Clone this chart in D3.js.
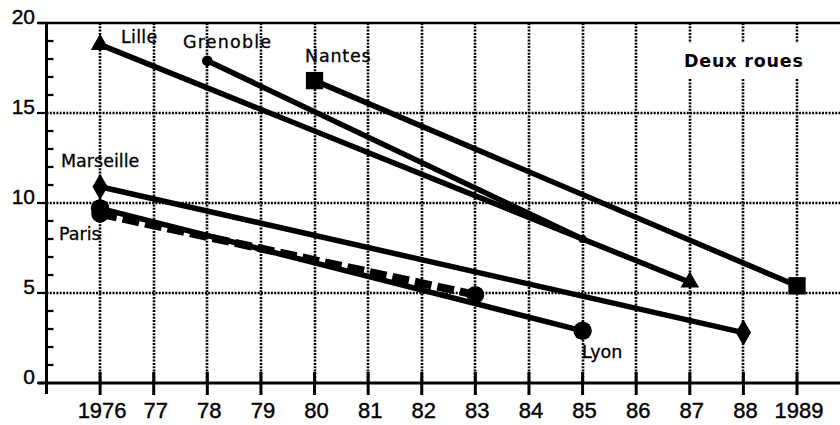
<!DOCTYPE html>
<html><head><meta charset="utf-8">
<script src="https://cdn.jsdelivr.net/npm/d3@7"></script>
<style>body{margin:0;background:#fff}svg{display:block}</style>
</head><body>
<svg id="c" width="840" height="425"></svg>
<script>
// ---- data ----
const years = [1976,1977,1978,1979,1980,1981,1982,1983,1984,1985,1986,1987,1988,1989];
const yearLabels = ["1976","77","78","79","80","81","82","83","84","85","86","87","88","1989"];
const yTicks = [0,5,10,15,20];
const title = "Deux roues";
const lilleYears = [1976,1987],  lilleValues = [18.8,5.6];
const grenobleYears = [1978,1985], grenobleValues = [17.9,8.0];
const nantesYears = [1980,1989], nantesValues = [16.8,5.4];
const marseilleYears = [1976,1988], marseilleValues = [10.9,2.8];
const lyonYears = [1976,1985], lyonValues = [9.7,2.9];
const parisYears = [1976,1983], parisValues = [9.4,4.9];

const svg = d3.select("#c");
const x = d3.scaleLinear().domain([1975,1989]).range([46.5,797]);
const y = d3.scaleLinear().domain([0,20]).range([383,23]);
const xRight = 840;

// gridlines (dotted)
const grid = svg.append("g").attr("stroke","#000").attr("stroke-width",2.6).attr("stroke-dasharray","2,1.3");
[5,10,15].forEach(v=>grid.append("line").attr("x1",x(1975)).attr("x2",xRight).attr("y1",Math.round(y(v))).attr("y2",Math.round(y(v))));
years.forEach(v=>grid.append("line").attr("x1",Math.round(x(v))).attr("x2",Math.round(x(v))).attr("y1",y(20)).attr("y2",y(0)));

// title with white box
svg.append("rect").attr("x",678).attr("y",43).attr("width",140).attr("height",36).attr("fill","#fff");
svg.append("text").attr("x",684).attr("y",67).attr("font-family","DejaVu Sans").attr("font-weight","bold")
  .attr("font-size",17.5).attr("letter-spacing",0.8).text(title);

// axes
svg.append("line").attr("x1",38).attr("x2",xRight).attr("y1",y(20)).attr("y2",y(20)).attr("stroke","#000").attr("stroke-width",2.5);
svg.append("line").attr("x1",38).attr("x2",xRight).attr("y1",y(0)).attr("y2",y(0)).attr("stroke","#000").attr("stroke-width",3);
svg.append("line").attr("x1",x(1975)).attr("x2",x(1975)).attr("y1",y(20)).attr("y2",394).attr("stroke","#000").attr("stroke-width",3);
// y ticks
d3.range(1,20).filter(v=>v%5).forEach(v=>svg.append("line").attr("x1",x(1975)).attr("x2",x(1975)+7).attr("y1",y(v)).attr("y2",y(v)).attr("stroke","#000").attr("stroke-width",2.2));
yTicks.forEach(v=>svg.append("line").attr("x1",37).attr("x2",x(1975)).attr("y1",y(v)).attr("y2",y(v)).attr("stroke","#000").attr("stroke-width",2.2));
svg.selectAll(".yl").data(yTicks).enter().append("text").attr("x",35).attr("y",v=>y(v)+1)
  .attr("text-anchor","end").attr("font-family","Liberation Sans").attr("font-size",21)
  .attr("stroke","#000").attr("stroke-width",0.4).text(v=>v);
// x ticks
years.forEach(v=>svg.append("line").attr("x1",x(v)).attr("x2",x(v)).attr("y1",372).attr("y2",395).attr("stroke","#000").attr("stroke-width",3));
svg.selectAll(".xl").data(years).enter().append("text").attr("x",(d,i)=>x(d)+2).attr("y",418)
  .attr("text-anchor","middle").attr("font-family","Liberation Sans").attr("font-size",22)
  .attr("stroke","#000").attr("stroke-width",0.4).text((d,i)=>yearLabels[i]);

// series
const line = d3.line().x(d=>x(d[0])).y(d=>y(d[1]));
function zip(a,b){return a.map((v,i)=>[v,b[i]]);}
const series = [
  {n:"Lille", d:zip(lilleYears,lilleValues), m:d3.symbolTriangle, s:150},
  {n:"Grenoble", d:zip(grenobleYears,grenobleValues), m:d3.symbolCircle, s:[90,50]},
  {n:"Nantes", d:zip(nantesYears,nantesValues), m:d3.symbolSquare, s:300},
  {n:"Marseille", d:zip(marseilleYears,marseilleValues), m:d3.symbolDiamond, s:200},
  {n:"Lyon", d:zip(lyonYears,lyonValues), m:d3.symbolCircle, s:270},
];
series.forEach(se=>{
  svg.append("path").attr("d",line(se.d)).attr("fill","none").attr("stroke","#000").attr("stroke-width",5.5);
});
// Paris dashed
svg.append("path").attr("d",line(zip(parisYears,parisValues))).attr("fill","none").attr("stroke","#000")
  .attr("stroke-width",8).attr("stroke-dasharray","17,6");
series.forEach(se=>{
  se.d.forEach((p,i)=>{
    const sz = Array.isArray(se.s)?se.s[i]:se.s;
    svg.append("path").attr("d",d3.symbol().type(se.m).size(sz)()).attr("transform",`translate(${x(p[0])},${y(p[1])})`).attr("fill","#000");
  });
});
zip(parisYears,parisValues).forEach(p=>svg.append("path").attr("d",d3.symbol().type(d3.symbolCircle).size(250)()).attr("transform",`translate(${x(p[0])},${y(p[1])})`));

// city labels
const labels = [["Lille",121,43,0.3],["Grenoble",183,48,1.2],["Nantes",305,62,0.8],["Marseille",61,167,0],["Paris",59,240,0],["Lyon",582,358,0]];
labels.forEach(l=>svg.append("text").attr("x",l[1]).attr("y",l[2]).attr("font-family","DejaVu Sans").attr("font-size",17.5)
  .attr("letter-spacing",l[3]).attr("stroke","#000").attr("stroke-width",0.3).text(l[0]));
</script>
</body></html>
